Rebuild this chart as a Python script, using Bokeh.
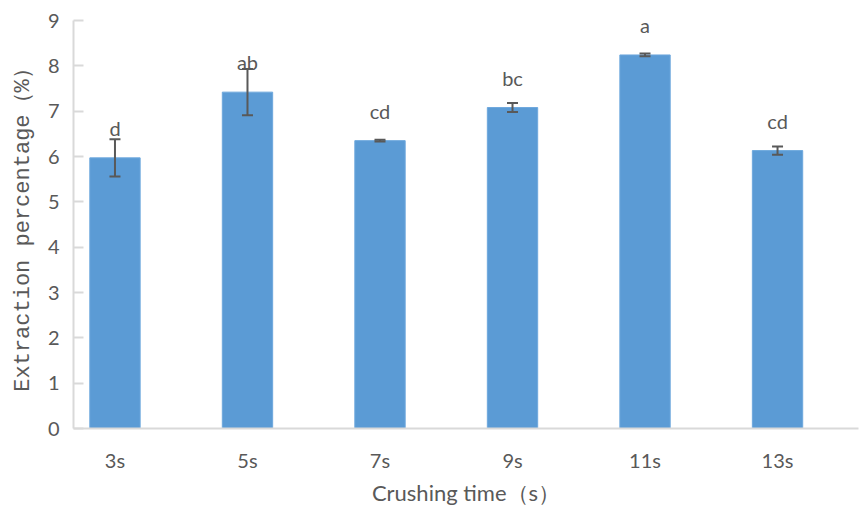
from bokeh.plotting import figure
from bokeh.models import ColumnDataSource, Range1d, FixedTicker, Whisker, TeeHead
from bokeh.core.properties import value
from bokeh.embed import file_html
from bokeh.resources import INLINE

# ---- data ----
categories = ["3s", "5s", "7s", "9s", "11s", "13s"]
means = [5.97, 7.42, 6.35, 7.08, 8.24, 6.13]
errors = [0.41, 0.51, 0.02, 0.10, 0.03, 0.09]
letters = ["d", "ab", "cd", "bc", "a", "cd"]

xs = list(range(len(categories)))
src = ColumnDataSource(dict(
    x=xs,
    top=means,
    upper=[m + e for m, e in zip(means, errors)],
    lower=[m - e for m, e in zip(means, errors)],
    label=letters,
))

GRAY = "#595959"
AXIS = "#d9d9d9"
BLUE = "#5B9BD5"
FONT = "Lato"

p = figure(width=860, height=508, output_backend="svg", toolbar_location=None,
           x_range=Range1d(-0.313, 5.611), y_range=Range1d(0, 9),
           min_border_left=73, min_border_right=2, min_border_top=20, min_border_bottom=79)
p.outline_line_color = None
p.grid.visible = False

p.vbar(x="x", top="top", width=0.38, source=src, fill_color=BLUE,
       line_color="#6ea8dd", line_width=1)

p.text(x="x", y="top", text="label", source=src, text_align="center",
       text_baseline="alphabetic", y_offset=-30, text_color=GRAY,
       text_font=value(FONT), text_font_size="20px")

wh = Whisker(base="x", upper="upper", lower="lower", source=src,
             line_color=GRAY, line_width=2, level="annotation",
             upper_head=TeeHead(size=11, line_color=GRAY, line_width=2),
             lower_head=TeeHead(size=11, line_color=GRAY, line_width=2))
p.add_layout(wh)

# y axis
ya = p.yaxis[0]
ya.ticker = FixedTicker(ticks=list(range(0, 10)))
ya.axis_line_color = AXIS
ya.axis_line_width = 2
ya.major_tick_line_color = AXIS
ya.major_tick_line_width = 2
ya.major_tick_in = 10
ya.major_tick_out = 0
ya.minor_tick_line_color = None
ya.major_label_standoff = 14
ya.major_label_text_color = GRAY
ya.major_label_text_font = FONT
ya.major_label_text_font_size = "20px"
ya.axis_label = "Extraction percentage（%）"
ya.axis_label_text_font = "Liberation Mono"
ya.axis_label_text_font_style = "normal"
ya.axis_label_text_font_size = "22px"
ya.axis_label_text_color = GRAY
ya.axis_label_standoff = 9

# x axis
xa = p.xaxis[0]
xa.ticker = FixedTicker(ticks=xs)
xa.major_label_overrides = {i: c for i, c in zip(xs, categories)}
xa.axis_line_color = AXIS
xa.axis_line_width = 2
xa.major_tick_line_color = None
xa.minor_tick_line_color = None
xa.major_label_standoff = 13
xa.major_label_text_color = GRAY
xa.major_label_text_font = FONT
xa.major_label_text_font_size = "20px"
xa.axis_label = "Crushing time（s）"
xa.axis_label_text_font = FONT
xa.axis_label_text_font_style = "normal"
xa.axis_label_text_font_size = "22px"
xa.axis_label_text_color = GRAY
xa.axis_label_standoff = 4

open("out.html", "w").write(file_html(p, INLINE))
